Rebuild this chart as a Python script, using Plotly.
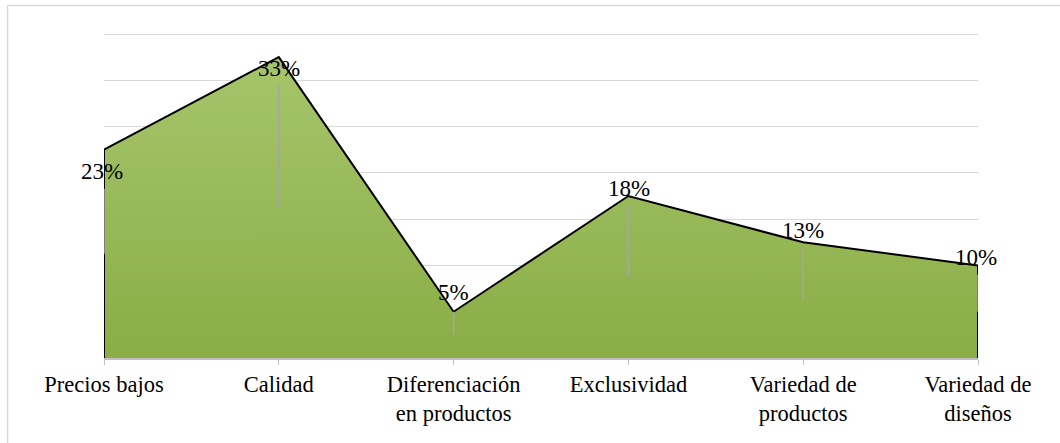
import plotly.graph_objects as go
from decimal import Decimal, ROUND_HALF_UP

# Share of respondents per purchase factor (%)
categories = [
    "Precios bajos",
    "Calidad",
    "Diferenciación<br>en productos",
    "Exclusividad",
    "Variedad de<br>productos",
    "Variedad de<br>diseños",
]
shares = [22.5, 32.5, 5.0, 17.5, 12.5, 10.0]

# Label nudges in pixels (x, y; positive y = up)
label_dx = [-2, 0, 0, 1, 0, -2]
label_dy = [-22, -11, 19, 8, 12, 8]

W, H = 1060, 443
M_L, M_R, M_T, M_B = 104, 82, 32, 85
GRID_MAX = 35          # highest gridline value
GRID_TOP_PX = 34       # pixel row of that gridline
plot_h = H - M_T - M_B
plot_w = W - M_L - M_R
px_per_unit = (H - M_B - GRID_TOP_PX) / GRID_MAX
Y_TOP = plot_h / px_per_unit

SERIF = "Liberation Serif"


def pct_label(v):
    return f"{Decimal(str(v)).quantize(Decimal('1'), rounding=ROUND_HALF_UP)}%"


fig = go.Figure()

# Filled area with outlined sides down to the baseline
area_x = [categories[0]] + categories + [categories[-1]]
area_y = [0] + shares + [0]
fig.add_trace(go.Scatter(
    x=area_x, y=area_y,
    mode="lines",
    fill="toself",
    fillgradient=dict(
        type="vertical",
        colorscale=[[0, "#8aad45"], [1, "#a6c56c"]],
    ),
    line=dict(color="#000000", width=2),
    hoverinfo="skip",
    showlegend=False,
))

# Leader lines from each label back toward the middle of the area
lead_x, lead_y = [], []
for c, v, dy in zip(categories, shares, label_dy):
    gap_px = max(0, -dy + 17)
    lead_x += [c, c, None]
    lead_y += [v / 2, v - gap_px / px_per_unit, None]
fig.add_trace(go.Scatter(
    x=lead_x, y=lead_y,
    mode="lines",
    line=dict(color="#a6a6a6", width=1.5),
    hoverinfo="skip",
    showlegend=False,
))

# Data labels
for c, v, dx, dy in zip(categories, shares, label_dx, label_dy):
    fig.add_annotation(
        x=c, y=v, text=pct_label(v),
        showarrow=False,
        xshift=dx, yshift=dy,
        font=dict(family=SERIF, size=23, color="#000000"),
    )

# Chart-area frame (only its top and left edges fall inside the page)
frame_left = (7.5 - M_L) / plot_w
frame_top = 1 + (M_T - 5.5) / plot_h
page_right = (W - M_L) / plot_w
page_bottom = -M_B / plot_h
fig.add_shape(
    type="line", xref="paper", yref="paper",
    x0=frame_left, x1=page_right, y0=frame_top, y1=frame_top,
    line=dict(color="#d9d9d9", width=1.5),
)
fig.add_shape(
    type="line", xref="paper", yref="paper",
    x0=frame_left, x1=frame_left, y0=frame_top, y1=page_bottom,
    line=dict(color="#d9d9d9", width=1.5),
)

fig.update_layout(
    width=W, height=H,
    margin=dict(l=M_L, r=M_R, t=M_T, b=M_B),
    paper_bgcolor="#ffffff",
    plot_bgcolor="#ffffff",
    font=dict(family=SERIF, size=22.5, color="#000000"),
    showlegend=False,
)
fig.update_xaxes(
    type="category",
    categoryorder="array", categoryarray=categories,
    range=[0, len(categories) - 1],
    showline=True, linecolor="#bfbfbf", linewidth=1.5,
    ticks="outside", ticklen=5, tickcolor="#bfbfbf", tickwidth=1,
    showgrid=False,
    tickfont=dict(family=SERIF, size=22.5, color="#000000"),
)
fig.update_yaxes(
    range=[0, Y_TOP], dtick=5,
    showgrid=True, gridcolor="#d9d9d9", gridwidth=1.3,
    showticklabels=False, zeroline=False, showline=False,
)

fig.write_html("out.html")
